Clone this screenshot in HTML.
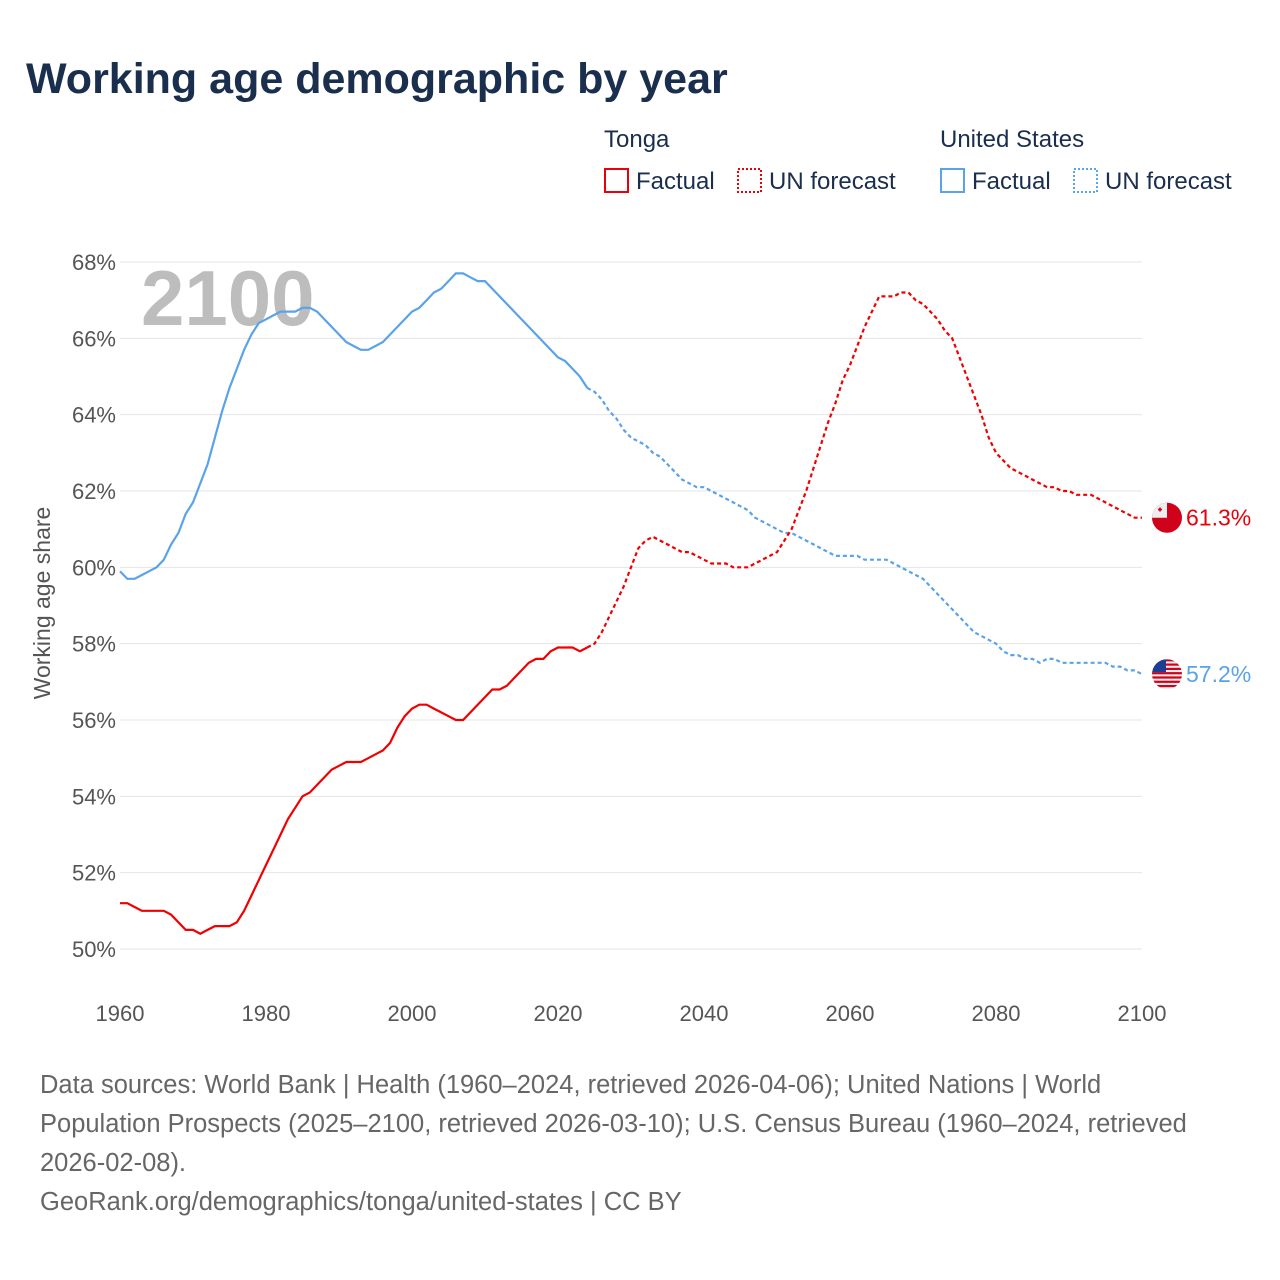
<!DOCTYPE html>
<html><head><meta charset="utf-8"><style>
body{margin:0;background:#fff;font-family:"Liberation Sans",sans-serif;}
#wrap{position:relative;width:1280px;height:1280px;overflow:hidden;}
</style></head><body>
<div id="wrap">
<svg id="chart" width="1280" height="1280" style="position:absolute;left:0;top:0"></svg>
</div>
<script>
const years=[];for(let y=1960;y<=2100;y++)years.push(y);
const factualEnd=2024;
const usValues=[59.9,59.7,59.7,59.8,59.9,60.0,60.2,60.6,60.9,61.4,61.7,62.2,62.7,63.4,64.1,64.7,65.2,65.7,66.1,66.4,66.5,66.6,66.7,66.7,66.7,66.8,66.8,66.7,66.5,66.3,66.1,65.9,65.8,65.7,65.7,65.8,65.9,66.1,66.3,66.5,66.7,66.8,67.0,67.2,67.3,67.5,67.7,67.7,67.6,67.5,67.5,67.3,67.1,66.9,66.7,66.5,66.3,66.1,65.9,65.7,65.5,65.4,65.2,65.0,64.7,
64.6,64.4,64.1,63.9,63.6,63.4,63.3,63.2,63.0,62.9,62.7,62.5,62.3,62.2,62.1,62.1,62.0,61.9,61.8,61.7,61.6,61.5,61.3,61.2,61.1,61.0,60.9,60.9,60.8,60.7,60.6,60.5,60.4,60.3,60.3,60.3,60.3,60.2,60.2,60.2,60.2,60.1,60.0,59.9,59.8,59.7,59.5,59.3,59.1,58.9,58.7,58.5,58.3,58.2,58.1,58.0,57.8,57.7,57.7,57.6,57.6,57.5,57.6,57.6,57.5,57.5,57.5,57.5,57.5,57.5,57.5,57.4,57.4,57.3,57.3,57.2];
const tongaValues=[51.2,51.2,51.1,51.0,51.0,51.0,51.0,50.9,50.7,50.5,50.5,50.4,50.5,50.6,50.6,50.6,50.7,51.0,51.4,51.8,52.2,52.6,53.0,53.4,53.7,54.0,54.1,54.3,54.5,54.7,54.8,54.9,54.9,54.9,55.0,55.1,55.2,55.4,55.8,56.1,56.3,56.4,56.4,56.3,56.2,56.1,56.0,56.0,56.2,56.4,56.6,56.8,56.8,56.9,57.1,57.3,57.5,57.6,57.6,57.8,57.9,57.9,57.9,57.8,57.9,
58.0,58.3,58.7,59.1,59.5,60.0,60.5,60.7,60.8,60.7,60.6,60.5,60.4,60.4,60.3,60.2,60.1,60.1,60.1,60.0,60.0,60.0,60.1,60.2,60.3,60.4,60.7,61.0,61.5,62.0,62.6,63.2,63.8,64.3,64.9,65.3,65.8,66.3,66.7,67.1,67.1,67.1,67.2,67.2,67.0,66.9,66.7,66.5,66.2,66.0,65.5,65.0,64.5,64.0,63.4,63.0,62.8,62.6,62.5,62.4,62.3,62.2,62.1,62.1,62.0,62.0,61.9,61.9,61.9,61.8,61.7,61.6,61.5,61.4,61.3,61.3,61.3];
const yTicks=[50,52,54,56,58,60,62,64,66,68];
const xTicks=[1960,1980,2000,2020,2040,2060,2080,2100];
const X=y=>120+(y-1960)*(1142-120)/140;
const Y=v=>949-(v-50)*(949-262)/18;
const NS='http://www.w3.org/2000/svg';
const svg=document.getElementById('chart');
function el(t,a,p){const e=document.createElementNS(NS,t);for(const k in a)e.setAttribute(k,a[k]);(p||svg).appendChild(e);return e;}
function txt(s,a,p){const e=el('text',a,p);e.textContent=s;return e;}
const F='"Liberation Sans",sans-serif';
let t=txt('Working age demographic by year',{x:26,y:93,'font-size':43,'font-weight':'bold',fill:'#1a2e4d','font-family':F});


function legend(x,label,color,name){
  let g=el('g',{});
  
  
  txt(label,{x:x,y:147,'font-size':24,fill:'#1a2e4d','font-family':F},g);
  el('rect',{x:x+1,y:169,width:23,height:23,fill:'none',stroke:color,'stroke-width':2},g);
  txt('Factual',{x:x+32,y:189,'font-size':24,fill:'#1a2e4d','font-family':F},g);
  el('rect',{x:x+134,y:169,width:23,height:23,fill:'none',stroke:color,'stroke-width':2,'stroke-dasharray':'2,2'},g);
  txt('UN forecast',{x:x+165,y:189,'font-size':24,fill:'#1a2e4d','font-family':F},g);
}
legend(604,'Tonga','#e8000b','legend-tonga');
legend(940,'United States','#5aa3e8','legend-united-states');
yTicks.forEach(v=>{
  let l=el('line',{x1:120,x2:1142,y1:Y(v),y2:Y(v),stroke:'#e4e4e4','stroke-width':1});
  
  
  let tt=txt(v+'%',{x:116,y:Y(v)+8,'text-anchor':'end','font-size':22,fill:'#555','font-family':F});
  
  
});
xTicks.forEach(v=>{
  let tt=txt(v,{x:X(v),y:1021,'text-anchor':'middle','font-size':22,fill:'#555','font-family':F});
  
  
});
let yt=txt('Working age share',{x:0,y:0,transform:'translate(50,603) rotate(-90)','text-anchor':'middle','font-size':23,fill:'#555','font-family':F});


let wm=txt('2100',{x:141,y:325,'font-size':78,'font-weight':'bold',fill:'#bdbdbd','font-family':F});


function series(vals,color,name){
  let f='',u='';
  years.forEach((y,i)=>{
    const p=X(y).toFixed(1)+','+Y(vals[i]).toFixed(1);
    if(y<=factualEnd)f+=(f?'L':'M')+p;
    if(y>=factualEnd)u+=(u?'L':'M')+p;
  });
  let a=el('path',{d:f,fill:'none',stroke:color,'stroke-width':2.2});
  
  
  let b=el('path',{d:u,fill:'none',stroke:color,'stroke-width':2.2,'stroke-dasharray':'4,3'});
  
  
}
series(usValues,'#5aa3e8','us');
series(tongaValues,'#f00000','tonga');
const tv=tongaValues[tongaValues.length-1],uv=usValues[usValues.length-1];
let tg=el('g',{});


el('circle',{cx:1167,cy:Y(tv),r:15,fill:'#d0021b'},tg);
el('path',{d:`M1152,${Y(tv)}A15,15 0 0 1 1167,${Y(tv)-15}L1167,${Y(tv)}Z`,fill:'#eee'},tg);
el('rect',{x:1158,y:Y(tv)-9,width:4,height:1.6,fill:'#d0021b'},tg);
el('rect',{x:1159.2,y:Y(tv)-10.2,width:1.6,height:4,fill:'#d0021b'},tg);
let tl=txt(tv.toFixed(1)+'%',{x:1186,y:Y(tv)+8,'font-size':23,fill:'#e8000b','font-family':F});


let ug=el('g',{});


const cy=Y(uv);
el('clipPath',{id:'uc'},ug);
el('circle',{cx:1167,cy:cy,r:15},document.getElementById('uc'));
let ugc=el('g',{'clip-path':'url(#uc)'},ug);
el('rect',{x:1152,y:cy-15,width:30,height:30,fill:'#eee'},ugc);
for(let i=0;i<7;i++)el('rect',{x:1152,y:cy-15+i*4.3,width:30,height:2.2,fill:'#d0021b'},ugc);
el('rect',{x:1152,y:cy-15,width:14,height:13,fill:'#1c3f94'},ugc);
let ul=txt(uv.toFixed(1)+'%',{x:1186,y:cy+8,'font-size':23,fill:'#5aa3e8','font-family':F});


const foot=['Data sources: World Bank | Health (1960–2024, retrieved 2026-04-06); United Nations | World','Population Prospects (2025–2100, retrieved 2026-03-10); U.S. Census Bureau (1960–2024, retrieved','2026-02-08).','GeoRank.org/demographics/tonga/united-states | CC BY'];
foot.forEach((s,i)=>{
  let f=txt(s,{x:40,y:1093+i*39,'font-size':25.5,fill:'#666','font-family':F});
  
  
});
</script>
</body></html>
